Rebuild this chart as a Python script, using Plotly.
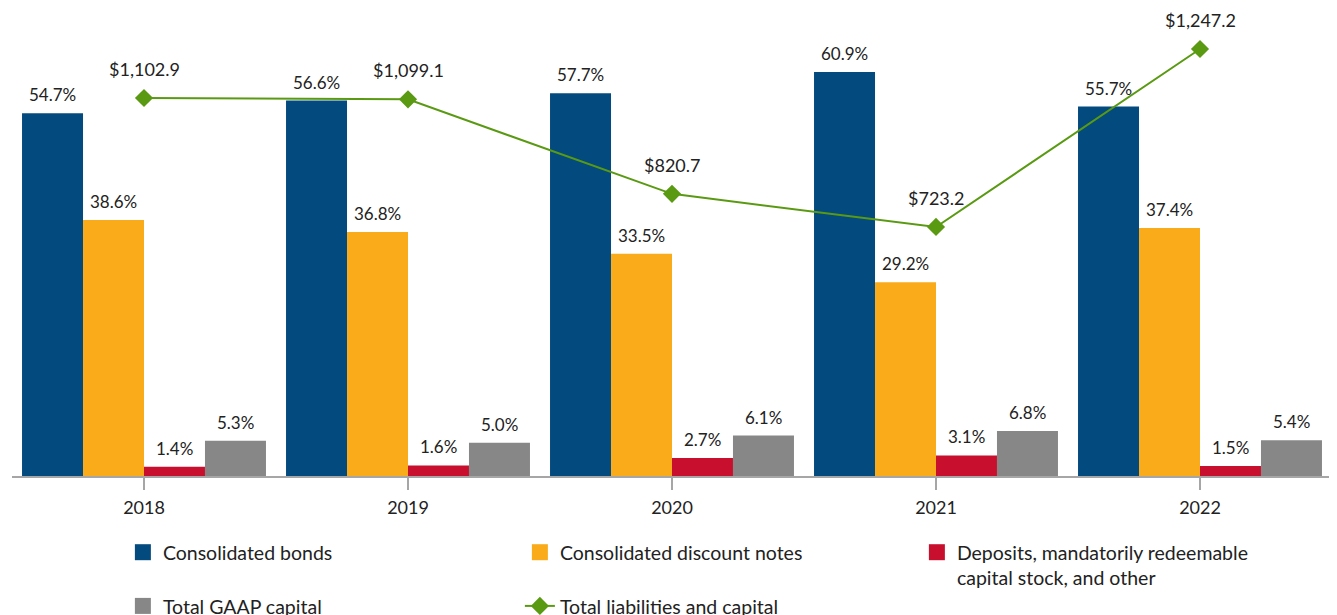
import plotly.graph_objects as go

years = ["2018", "2019", "2020", "2021", "2022"]
bonds = [54.7, 56.6, 57.7, 60.9, 55.7]
discount_notes = [38.6, 36.8, 33.5, 29.2, 37.4]
deposits = [1.4, 1.6, 2.7, 3.1, 1.5]
gaap_capital = [5.3, 5.0, 6.1, 6.8, 5.4]
total_liab_capital = [1102.9, 1099.1, 820.7, 723.2, 1247.2]

names = ["Consolidated bonds", "Consolidated discount notes",
         "Deposits, mandatorily redeemable<br>capital stock, and other",
         "Total GAAP capital"]
colors = ["#034a7e", "#f9ab1a", "#c8102e", "#878787"]
series = [bonds, discount_notes, deposits, gaap_capital]

FONT = "Lato"
TXT = "#222222"
BARGAP = 0.076
n_series = len(series)
bar_w = (1 - BARGAP) / n_series

fig = go.Figure()
for k, (nm, col, vals) in enumerate(zip(names, colors, series)):
    fig.add_trace(go.Bar(
        x=years, y=vals, name=nm, marker=dict(color=col, line=dict(width=0)),
        showlegend=False, legendgroup=nm,
    ))
    # value labels above each bar
    for i, v in enumerate(vals):
        fig.add_annotation(x=i - (1 - BARGAP) / 2 + bar_w * (k + 0.5), y=v,
                           xref="x", yref="y", text=f"{v:.1f}%",
                           showarrow=False, yanchor="bottom", yshift=6,
                           font=dict(family=FONT, size=17, color=TXT))
    # legend proxy with a larger square symbol
    fig.add_trace(go.Scatter(
        x=[None], y=[None], name=nm, mode="markers", legendgroup=nm,
        marker=dict(symbol="square", size=16, color=col),
    ))

fig.add_trace(go.Scatter(
    x=years, y=total_liab_capital, name="Total liabilities and capital",
    yaxis="y2", mode="lines+markers",
    line=dict(color="#5a9a12", width=2),
    marker=dict(symbol="diamond", size=14, color="#5a9a12"),
    cliponaxis=False,
))

for i, v in enumerate(total_liab_capital):
    fig.add_annotation(x=i, y=v, xref="x", yref="y2", text=f"${v:,.1f}",
                       showarrow=False, yanchor="bottom", yshift=16,
                       font=dict(family=FONT, size=18, color=TXT))

fig.update_layout(
    width=1337, height=615,
    margin=dict(l=4, r=13, t=2, b=147),
    plot_bgcolor="white", paper_bgcolor="white",
    barmode="group", bargap=BARGAP, bargroupgap=0,
    font=dict(family=FONT, size=18, color=TXT),
    xaxis=dict(type="category", range=[-0.5, 4.5], showline=True, linecolor="#a6a6a6", linewidth=2,
               ticks="outside", ticklen=12, tickcolor="#a6a6a6", tickwidth=2,
               ticklabelstandoff=2,
               tickfont=dict(family=FONT, size=18, color=TXT),
               showgrid=False, zeroline=False),
    yaxis=dict(range=[0, 70.25], visible=False, showgrid=False),
    yaxis2=dict(range=[-10, 1362], overlaying="y", visible=False, showgrid=False),
    legend=dict(orientation="h", x=0.084, xanchor="left",
                yref="container", y=0.1463, yanchor="top",
                entrywidth=352, valign="top",
                font=dict(family=FONT, size=19.5, color=TXT),
                tracegroupgap=0, itemwidth=30),
    showlegend=True,
)

fig.write_html("out.html")
